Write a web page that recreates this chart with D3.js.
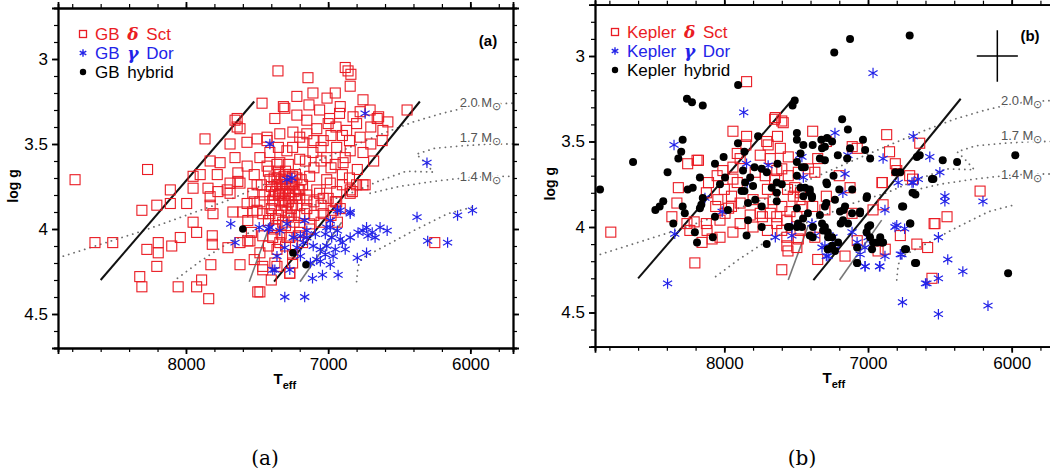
<!DOCTYPE html>
<html>
<head>
<meta charset="utf-8">
<script src="https://cdn.jsdelivr.net/npm/d3@7"></script>
<style>
  html, body { margin: 0; padding: 0; background: #fff; }
  svg { display: block; }
  .tick text { font-family: "Liberation Sans", Arial, sans-serif; font-size: 17px; fill: #000; }
</style>
</head>
<body>
<svg id="chart" width="1050" height="471"></svg>
<script>
// ---- Ground-based sample (panel a) : [Teff, log g] ----
const gbDsct = [
  [8780,3.71],[8270,3.65],[7465,3.26],[7655,3.36],[7620,3.41],[7866,3.47],[7690,3.50],[7571,3.49],[7500,3.47],[7430,3.48],
  [7655,3.58],[7830,3.60],[7760,3.61],[7570,3.63],[7900,3.68],[7950,3.69],[7780,3.68],[7635,3.67],[7635,3.72],[7690,3.73],
  [7500,3.74],[7845,3.76],[7775,3.78],[8110,3.77],[7950,3.76],[8310,3.89],[8205,3.86],[8110,3.85],[7995,3.85],[7830,3.81],
  [7830,3.86],[7810,3.91],[7950,3.96],[7925,4.02],[8040,4.05],[8640,4.08],[8515,4.08],[8275,4.12],[8195,4.08],[8195,4.14],
  [8100,4.10],[7815,4.04],[7815,4.09],[7705,4.11],[7565,4.07],[8205,4.22],[8325,4.28],[8310,4.34],[8055,4.34],[7925,4.34],
  [7890,4.30],[7825,4.21],[7620,4.21],[7840,4.41],[7495,4.37],[7670,3.90],[7600,3.90],[7530,3.90],[7565,3.95],[7460,4.24],
  [7690,3.79],[7620,3.73],[7530,3.79],[7480,3.84],[7570,3.85],[7460,3.91],
  [7353,3.07],[7142,3.11],[6880,3.05],[6860,3.07],[6845,3.16],[7107,3.20],[7008,3.23],[6915,3.28],[6755,3.24],[6445,3.30],
  [6705,3.30],[6655,3.35],[6615,3.42],[7305,3.29],[7375,3.35],[7220,3.33],[7060,3.30],[7150,3.36],[6990,3.35],[6825,3.34],
  [6775,3.31],[6870,3.42],[6945,3.40],[7080,3.41],[7248,3.43],[7340,3.44],[7430,3.46],[7410,3.55],[7290,3.54],[7178,3.49],
  [7035,3.48],[6900,3.45],[6775,3.46],[6755,3.55],[6845,3.54],[6940,3.52],[7010,3.58],[7107,3.55],[7200,3.59],[7340,3.61],
  [7430,3.63],[6895,3.61],[6795,3.65],[7010,3.71],[7130,3.69],[7250,3.69],[7410,3.71],[6740,3.74],[6845,3.79],[6940,3.78],
  [7060,3.79],[7200,3.77],[7340,3.79],[6840,3.09],[7135,3.27],[7315,3.28],[6645,3.34],[7640,3.35],[7640,3.40],
  [6830,3.78],[6915,3.88],[6935,3.96],[6250,4.08],[7270,4.26],[7480,4.37],[7360,4.22],
  [7420,3.66],[7380,3.70],[7340,3.68],[7300,3.72],[7260,3.74],[7220,3.70],[7300,3.66],[7360,3.74],[7320,3.78],[7280,3.80],
  [7240,3.78],[7200,3.82],[7380,3.80],[7340,3.84],[7300,3.86],[7260,3.88],[7220,3.86],[7180,3.74],[7150,3.80],[7400,3.88],
  [7350,3.92],[7280,3.93],[7200,3.92],[7240,3.96],[7300,3.98],[7150,3.88],[7100,3.84],[7050,3.86],[7000,3.82],[6950,3.84],
  [7100,3.92],[7050,3.96],[6980,3.92],[7420,3.95],[7380,4.00],[7330,4.03],[7270,4.05],[7200,4.02],[7130,4.00],[7460,4.04],
  [7420,4.10],[7360,4.12],[7300,4.10],[7250,4.15],[7180,4.08],[7480,4.14],[7520,4.18],[7400,4.30],[7540,4.02],[7360,3.62],
  [7280,3.62],[7100,3.64],[7050,3.60],[6980,3.64],[6900,3.68],[6850,3.70],[6800,3.74],[6900,3.74],[7160,3.60],[7480,3.58],
  [7520,3.68],[7470,3.74],[7450,3.80],[7520,3.84],
  [7620,4.08],[7550,4.07],[7460,4.22],[7375,4.20],[7270,4.26],[7250,4.20],[7340,4.08],[7390,4.05],[7290,4.05],[7210,4.04],
  [7360,3.98],[7200,3.99],[7130,3.97],[7035,3.91],[6965,3.89],[6940,3.84],[6845,3.77],[6755,3.74],[6985,3.73],[7080,3.77],
  [7150,3.83],[7035,3.82],[7165,3.91],[7410,3.91],[7500,3.89],[7710,3.77],
  [7400,3.75],[7370,3.78],[7330,3.71],[7290,3.76],[7260,3.82],[7230,3.80],[7380,3.86],[7350,3.80],[7310,3.83],[7270,3.70],
  [7240,3.73],[7340,3.76],[7300,3.79],[7360,3.70],[7320,3.74],[7280,3.84],[7250,3.86],[7390,3.83],[7410,3.78],[7270,3.78],
  [7310,3.69],[7350,3.66],[7230,3.68],[7190,3.71],[7210,3.77],[7330,3.89],[7290,3.90],[7260,3.92],[7370,3.94],[7320,3.96],
  [7000,3.38],[6920,3.32],[6800,3.38],[6700,3.40],[7150,3.44],[7100,3.48],[6980,3.45],[6850,3.48],[6700,3.50],[6680,3.60],
  [6950,3.62],[7250,3.52],[7350,3.52],[7200,3.46],[7050,3.52],[6880,3.58],[6620,3.48],[6580,3.37],[6950,3.20],[7220,3.22]
];
const gbGdor = [
  [7685,3.97],[7655,4.08],[7485,3.99],[7420,4.00],[6740,3.32],[7410,3.50],[6305,3.61],[7255,3.70],[7290,3.71],
  [7410,3.99],[7340,4.01],[7305,4.11],[7375,4.24],[7305,4.40],[7165,4.40],[7110,4.29],[7040,4.27],[6930,4.27],[6985,4.21],
  [7055,4.19],[7125,4.20],[7195,4.16],[7220,4.11],[7175,4.08],[7105,4.10],[7055,4.12],[7010,4.10],[6965,4.16],[6915,4.06],
  [6975,4.05],[7020,4.03],[7090,4.03],[7150,4.01],[7195,4.04],[7245,4.05],[6985,3.99],[6935,4.01],[6900,4.08],[6845,4.05],
  [6790,4.02],[6730,3.99],[6720,4.04],[6670,4.05],[6635,3.99],[6585,4.01],[6795,4.17],[6730,4.14],[6375,3.93],[6300,4.07],
  [6160,4.08],[6090,3.92],[5985,3.89],[6845,3.90],[6935,3.89],
  [7290,3.97],[7150,4.05],[7165,3.95],[7010,3.99],[6985,3.95],[6915,3.89],[6845,3.91],[7360,4.16],[7390,4.24],[7080,4.18],
  [7270,4.24],[6755,4.01],[6690,4.02],[6950,4.12],[7020,4.15],[6880,4.12]
];
const gbHybrid = [[7600,4.00],[7248,4.14],[7156,4.21]];

// ---- Kepler sample (panel b) : [Teff, log g] ----
const kepDsct = [
  [7845,3.15],[7650,3.37],[7600,3.38],[7940,3.44],[7845,3.47],[7705,3.50],[7630,3.47],[7695,3.52],[7910,3.57],[8255,3.63],
  [8190,3.61],[8010,3.67],[8110,3.74],[8320,3.77],[7940,3.72],[7910,3.74],[7650,3.72],[7600,3.66],[7555,3.70],
  [7645,3.36],[7590,3.39],[7610,3.54],[7385,3.44],[8180,3.61],[7890,3.60],[7940,3.65],[7785,3.68],[7715,3.70],[7635,3.67],
  [7555,3.59],[7485,3.68],[7415,3.66],[7370,3.68],[8125,3.80],[8045,3.84],[7950,3.82],[8330,3.86],[8060,3.88],[7970,3.89],
  [7890,3.86],[7800,3.84],[7730,3.86],[7660,3.84],[7560,3.78],[7470,3.80],[8365,3.94],[8260,3.98],[8210,3.97],[8125,3.98],
  [8030,3.96],[7995,3.92],[7890,3.98],[7820,3.93],[7735,3.94],[7635,3.94],[7635,3.98],[7565,3.96],[7495,3.94],[7460,3.88],
  [7385,3.88],[8240,4.02],[8120,4.02],[8030,4.06],[7940,4.03],[8155,4.09],[8085,4.07],[7565,4.06],[7565,4.11],[7485,4.07],
  [7495,4.12],[7370,4.06],[8205,4.21],[7600,4.25],[8790,4.03],
  [6870,3.46],[6850,3.56],[7110,3.53],[7075,3.54],[6220,3.79],[6640,3.51],[6810,3.63],[6900,3.74],[6710,3.70],[6800,3.67],
  [6690,3.72],[6965,3.90],[6450,3.94],[6540,3.98],[6775,4.05],[6660,4.10],[6585,4.12],[7075,4.08],[6880,4.13],[6555,4.30],
  [7290,3.50],[7510,3.77],[7473,3.84],[7543,3.91],[7473,4.02],[7557,4.14],[7350,4.19],[7290,3.82],[7300,3.90],[7125,3.77],
  [7111,3.92],[7160,4.17],[6930,4.14],[6895,3.87],[6903,3.74],[6534,3.98],[7200,3.70],[7350,3.60],
  [8000,3.78],[7950,3.88],[7700,3.78],[7750,3.92],[7680,3.92],[7600,3.88],[7520,3.82],[7800,4.00],[7700,4.02],[7600,4.02],
  [8050,3.70],[7850,3.52],[7750,3.58],[7680,3.60]
];
const kepGdor = [
  [7865,3.33],[8350,3.52],[7845,3.63],[7695,3.64],[7840,3.74],[7475,3.58],[7450,3.71],[8135,3.83],[8015,3.91],[8345,4.04],
  [7645,4.06],[7530,4.05],[7230,3.45],[7300,4.11],[7290,4.17],[8395,4.33],[6965,3.10],[6685,3.47],[7160,3.69],
  [7140,3.58],[6895,3.60],[6570,3.59],[6500,3.68],[6790,3.74],[6685,3.74],[6650,3.72],[7460,3.59],[6465,3.82],[7175,3.80],
  [6465,3.85],[6200,3.85],[6800,3.99],[6745,4.01],[6510,4.06],[6775,4.16],[6445,4.19],[6340,4.26],[6510,4.30],[6600,4.33],
  [6920,4.23],[7020,4.23],[6760,4.44],[6510,4.51],[6165,4.46],[6590,4.33],
  [7530,4.00],[7390,3.98],[7369,4.05],[7320,4.12],[7278,4.17],[7244,4.06],[7230,4.13],[7111,4.03],[7076,4.09],[7055,4.16],
  [7021,4.23],[6917,4.23],[6882,4.17],[7021,4.12],[7000,4.06],[6882,3.90],[6812,4.00],[6764,4.16],[6694,3.74]
];
const kepHybrid = [
  [7904,3.17],[8260,3.25],[8225,3.27],[8150,3.29],[8635,3.62],[8865,3.78],[8290,3.49],[8300,3.56],[8320,3.60],[8395,3.68],
  [8255,3.78],[8220,3.77],[8170,3.71],[8065,3.63],[8005,3.59],[7905,3.51],[7860,3.56],[7870,3.67],[7995,3.71],[7765,3.47],
  [7790,3.65],[7740,3.66],[7705,3.68],[7630,3.63],[7635,3.74],[7600,3.75],[7860,3.79],[7510,3.26],[7525,3.29],
  [8480,3.90],[8450,3.88],[8425,3.85],[8030,3.75],[8150,3.83],[8160,3.87],[8170,3.89],[8290,3.88],[8275,3.92],[8355,3.98],
  [8205,4.03],[8190,4.09],[8080,4.06],[8065,3.94],[7975,3.90],[7855,3.74],[7880,3.79],[7820,3.71],[7800,3.76],[7635,3.80],
  [7670,3.77],[7835,3.86],[7785,3.84],[7740,3.88],[7635,3.85],[7835,3.96],[7740,4.00],[7845,4.05],[7705,4.10],[7495,3.45],
  [7495,3.49],[7450,3.52],[7470,3.57],[7495,3.62],[7460,3.65],[7495,3.70],[7470,3.77],[7450,3.82],[7495,3.89],[7405,3.80],
  [7390,3.83],[7545,4.00],[7495,4.00],[7460,4.00],[7405,4.05],[7385,4.06],[7335,3.93],[7320,3.98],[7300,4.00],[7280,4.03],
  [7385,3.52],[7325,3.49],[7300,3.61],[7335,3.60],[7300,3.53],[7290,3.74],[7290,3.86],[7250,4.06],[7250,4.11],[7280,4.13],
  [7235,2.98],[7125,2.90],[6710,2.88],[7180,3.37],[7140,3.43],[7285,3.48],[7250,3.50],[7320,3.54],[7210,3.58],[7145,3.60],
  [7125,3.54],[7035,3.49],[7020,3.55],[6985,3.60],[6660,3.59],[6640,3.58],[6480,3.61],[6380,3.62],[5975,3.58],[6810,3.68],
  [6775,3.68],[6690,3.80],[6670,3.81],[6545,3.72],[7110,3.78],[7440,3.65],[7405,3.78],
  [7010,3.83],[6755,3.88],[7055,3.91],[7170,3.90],[7190,3.98],[6985,3.99],[6705,3.98],[7010,4.03],[6915,4.06],[6895,4.09],
  [6965,4.09],[6735,4.13],[6665,4.21],[7075,4.21],[6025,4.27],[7200,3.78],[7240,3.70],[7230,3.84],
  [7557,4.00],[7487,3.98],[7452,3.95],[7418,3.92],[7383,4.00],[7313,4.02],[7278,4.06],[7278,4.13],[7230,4.14],[7208,4.09],
  [7174,3.96],[7139,3.98],[7111,3.92],[7056,3.92],[7076,4.12],[6999,4.00],[6986,4.06],[6937,4.09],[6972,4.13],[6903,4.09],
  [7076,4.21],[7300,3.88],[7195,3.91],[7160,3.88],[7438,3.77],[7390,3.82],[7285,3.75],[7007,3.82],[6763,3.88],[6708,3.98],
  [6743,4.13],[6673,4.21],[6555,3.72]
];

// ---- Instability strip edges and evolutionary tracks : [Teff, log g] ----
const dsctBlueEdge = [[8600,4.30],[7520,3.25]];
const dsctRedEdge  = [[7380,4.31],[6355,3.25]];
const gdorBlueEdge = [[7555,4.31],[7415,3.99]];
const gdorRedEdge  = [[7198,4.31],[6905,3.96]];
const track20 = [[8900,4.17],[8600,4.09],[8300,4.01],[8000,3.92],[7700,3.83],[7400,3.72],[7100,3.61],[6850,3.52],[6620,3.44],
                 [6400,3.37],[6200,3.32],[6000,3.28],[5850,3.265],[5700,3.26]];
const track17 = [[8060,4.29],[7900,4.19],[7700,4.08],[7500,4.00],[7300,3.93],[7100,3.86],[6870,3.80],[6650,3.72],[6450,3.66],
                 [6260,3.665],[6330,3.60],[6380,3.56],[6250,3.525],[6050,3.51],[5850,3.50],[5700,3.50]];
const track14 = [[6800,4.31],[6790,4.22],[6760,4.17],[6600,4.10],[6400,4.01],[6160,3.91],[5980,3.87]];
const track14b = [[6705,3.79],[6500,3.75],[6260,3.72],[6050,3.70],[5850,3.69],[5700,3.69]];
const trackNames = ["2.0 M", "1.7 M", "1.4 M"];
const trackLabelT = [6075, 6075, 6075];
const trackLabelG = [3.285, 3.49, 3.72];

// ---- Axes ----
const xMajor = [8000, 7000, 6000];
const xMinor = d3.range(8800, 5699, -200);
const yMajor = [3, 3.5, 4, 4.5];
const yMinor = d3.range(2.8, 4.71, 0.1).map(v => +v.toFixed(1));
const errCentre = [6100, 3.0];
const errSize = [143, 0.15];

const legendA = ["GB \u03b4 Sct", "GB \u03b3 Dor", "GB hybrid"];
const legendB = ["Kepler \u03b4 Sct", "Kepler \u03b3 Dor", "Kepler hybrid"];

const RED = "#ea1c24", BLUE = "#2323e8", GREY = "#6e6e6e";
const svg = d3.select("#chart");

const panels = [
  { key: "a", left: 58, right: 513, top: 8, bottom: 348, dsct: gbDsct, gdor: gbGdor, hyb: gbHybrid, dotR: 3.8,
    legend: legendA, tag: "(a)", tagX: 488, tagY: 46, legX: 83, legY: 34, caption: "(a)", capX: 265 },
  { key: "b", left: 595, right: 1054.8, top: 4.7, bottom: 346.7, dsct: kepDsct, gdor: kepGdor, hyb: kepHybrid, dotR: 4,
    legend: legendB, tag: "(b)", tagX: 1030, tagY: 41, legX: 615, legY: 32, caption: "(b)", capX: 802, err: true }
];

const asterisk = d3.symbol(d3.symbolAsterisk, 78);

panels.forEach(p => {
  const x = d3.scaleLinear().domain([8900, 5700]).range([p.left, p.right]);
  const y = d3.scaleLinear().domain([2.7, 4.7]).range([p.top, p.bottom]);
  const g = svg.append("g");
  const clipId = "clip-" + p.key;
  g.append("clipPath").attr("id", clipId).append("rect")
    .attr("x", p.left).attr("y", p.top).attr("width", p.right - p.left).attr("height", p.bottom - p.top);
  const plot = g.append("g").attr("clip-path", `url(#${clipId})`);

  const line = d3.line().x(d => x(d[0])).y(d => y(d[1]));

  // evolutionary tracks (dotted)
  [track20, track17, track14, track14b].forEach(t => {
    plot.append("path").attr("d", line(t)).attr("fill", "none")
      .attr("stroke", GREY).attr("stroke-width", 1.8)
      .attr("stroke-dasharray", "0.1 5.5").attr("stroke-linecap", "round");
  });

  // strip edges
  [dsctBlueEdge, dsctRedEdge].forEach(t => {
    plot.append("path").attr("d", line(t)).attr("fill", "none").attr("stroke", "#111").attr("stroke-width", 2);
  });
  [gdorBlueEdge, gdorRedEdge].forEach(t => {
    plot.append("path").attr("d", line(t)).attr("fill", "none").attr("stroke", "#777").attr("stroke-width", 1.6);
  });

  // δ Sct stars: open squares
  plot.append("g").selectAll("rect").data(p.dsct).join("rect")
    .attr("x", d => x(d[0]) - 5).attr("y", d => y(d[1]) - 5)
    .attr("width", 10).attr("height", 10)
    .attr("fill", "none").attr("stroke", RED).attr("stroke-width", 1.1);

  // γ Dor stars: asterisks
  plot.append("g").selectAll("path").data(p.gdor).join("path")
    .attr("d", asterisk)
    .attr("transform", d => `translate(${x(d[0])},${y(d[1])})`)
    .attr("fill", "none").attr("stroke", BLUE).attr("stroke-width", 1.2);

  // hybrids: filled dots
  plot.append("g").selectAll("circle").data(p.hyb).join("circle")
    .attr("cx", d => x(d[0])).attr("cy", d => y(d[1])).attr("r", p.dotR).attr("fill", "#000");

  // track labels
  trackNames.forEach((name, i) => {
    const t = plot.append("text")
      .attr("x", x(trackLabelT[i])).attr("y", y(trackLabelG[i]))
      .attr("font-family", "'Liberation Sans', Arial, sans-serif").attr("font-size", 13)
      .attr("fill", "#555").attr("stroke", "#fff").attr("stroke-width", 3).attr("paint-order", "stroke")
      .text(name);
    t.append("tspan").attr("dy", 3).attr("font-size", 11).text("\u2299");
  });

  // error cross
  if (p.err) {
    plot.append("line").attr("x1", x(errCentre[0] + errSize[0])).attr("x2", x(errCentre[0] - errSize[0]))
      .attr("y1", y(errCentre[1])).attr("y2", y(errCentre[1])).attr("stroke", "#000").attr("stroke-width", 1.5);
    plot.append("line").attr("x1", x(errCentre[0])).attr("x2", x(errCentre[0]))
      .attr("y1", y(errCentre[1] - errSize[1])).attr("y2", y(errCentre[1] + errSize[1])).attr("stroke", "#000").attr("stroke-width", 1.5);
  }

  // frame and ticks (outward on all sides)
  const axes = [
    [d3.axisBottom(x), `translate(0,${p.bottom})`, xMinor, xMajor, true],
    [d3.axisTop(x), `translate(0,${p.top})`, xMinor, xMajor, false],
    [d3.axisLeft(y), `translate(${p.left},0)`, yMinor, yMajor, true],
    [d3.axisRight(y), `translate(${p.right},0)`, yMinor, yMajor, false]
  ];
  axes.forEach(([ax, tr, minor, major, labels]) => {
    g.append("g").attr("transform", tr)
      .call(ax.tickValues(minor).tickSize(4).tickFormat(""))
      .call(s => s.selectAll("path,line").attr("stroke", "#000").attr("stroke-width", 1.2));
    g.append("g").attr("transform", tr)
      .call(ax.tickValues(major).tickSize(6).tickPadding(labels ? 4 : 0).tickFormat(labels ? d3.format("") : ""))
      .call(s => s.selectAll("path,line").attr("stroke", "#000").attr("stroke-width", 1.8));
  });
  g.selectAll(".domain").attr("stroke-width", 1.8);

  // axis titles
  g.append("text")
    .attr("transform", `translate(${p.left - 40},${(p.top + p.bottom) / 2 + 8}) rotate(-90)`)
    .attr("text-anchor", "middle").attr("font-family", "'Liberation Sans', Arial, sans-serif")
    .attr("font-size", 14).attr("font-weight", "bold").text("log g");
  const xlab = g.append("text")
    .attr("x", (p.left + Math.min(p.right, 1054)) / 2 - 2 + (p.key === "a" ? -10 : 0))
    .attr("y", p.bottom + 36)
    .attr("font-family", "'Liberation Sans', Arial, sans-serif").attr("font-size", 15).attr("font-weight", "bold")
    .text("T");
  xlab.append("tspan").attr("dy", 5).attr("font-size", 11).text("eff");

  // panel tag
  g.append("text").attr("x", p.tagX).attr("y", p.tagY).attr("text-anchor", "middle")
    .attr("font-family", "'Liberation Sans', Arial, sans-serif").attr("font-size", 15).attr("font-weight", "bold")
    .text(p.tag);

  // legend
  const lf = "'Liberation Sans', Arial, sans-serif";
  const colors = [RED, BLUE, "#000"];
  p.legend.forEach((txt, i) => {
    const ly = p.legY + i * 19;
    if (i === 0) g.append("rect").attr("x", p.legX - 3.5).attr("y", ly - 3.5).attr("width", 7).attr("height", 7)
      .attr("fill", "none").attr("stroke", RED).attr("stroke-width", 1.3);
    if (i === 1) g.append("path").attr("d", d3.symbol(d3.symbolAsterisk, 40)())
      .attr("transform", `translate(${p.legX},${ly})`).attr("stroke", BLUE).attr("stroke-width", 1.4);
    if (i === 2) g.append("circle").attr("cx", p.legX).attr("cy", ly).attr("r", 3.2).attr("fill", "#000");
    const parts = txt.split(/([\u03b4\u03b3])/);
    const t = g.append("text").attr("x", p.legX + 12).attr("y", ly + 6)
      .attr("font-family", lf).attr("font-size", 17).attr("fill", colors[i]).attr("word-spacing", 3);
    parts.forEach(s => {
      if (s === "\u03b4" || s === "\u03b3") t.append("tspan").attr("font-style", "italic").attr("font-weight", "bold")
        .attr("font-family", "'DejaVu Serif', serif").text(s);
      else t.append("tspan").text(s);
    });
  });

  // caption below the panel
  svg.append("text").attr("x", p.capX).attr("y", 465).attr("text-anchor", "middle")
    .attr("font-family", "'DejaVu Serif', 'Liberation Serif', serif").attr("font-size", 20).text(p.caption);
});
</script>
</body>
</html>
